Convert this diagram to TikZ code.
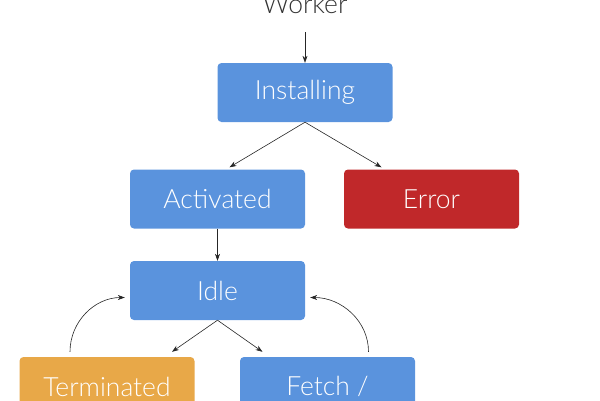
\documentclass[tikz,border=0pt]{standalone}
\usepackage{fontspec}
\setmainfont{Lato Light}
\usetikzlibrary{arrows.meta}
\definecolor{stateblue}{HTML}{5A93DD}
\definecolor{statered}{HTML}{C0282A}
\definecolor{stateorange}{HTML}{E8A848}

\begin{document}
\begin{tikzpicture}[x=1pt,y=-1pt,
	state/.style={rounded corners=4pt,minimum width=175pt,minimum height=59pt,inner sep=0pt,text=white,font=\fontsize{26.5}{30}\selectfont},
	flow/.style={-{Stealth[length=7pt,width=5pt]},line width=0.6pt,draw=black!85}]
	\useasboundingbox (0,0) rectangle (600,400);
	\node[font=\fontsize{26.5}{30}\selectfont,text=black!80] (worker) at (305,4) {Worker};
	\node[state,fill=stateblue] (installing) at (305,92.5) {Installing};
	\node[state,fill=stateblue] (activated) at (217.5,199) {Activated};
	\node[state,fill=statered] (error) at (431.5,199) {Error};
	\node[state,fill=stateblue] (idle) at (217.5,290.5) {Idle};
	\node[state,fill=stateorange] (terminated) at (107,386.5) {Terminated};
	\node[state,fill=stateblue] (fetch) at (327.5,386.5) {Fetch /};
	\draw[flow] (305,32) -- (installing);
	\draw[flow] (installing.south) -- ([xshift=12pt,yshift=2pt]activated.north);
	\draw[flow] (installing.south) -- ([xshift=-50pt,yshift=2pt]error.north);
	\draw[flow] (activated) -- (idle);
	\draw[flow] (idle.south) -- ([xshift=65pt,yshift=5pt]terminated.north);
	\draw[flow] (idle.south) -- ([xshift=-65pt,yshift=5pt]fetch.north);
	\draw[flow] ([xshift=-37pt,yshift=5pt]terminated.north) to[out=90,in=180] ([xshift=-5pt,yshift=-7pt]idle.west);
	\draw[flow] ([xshift=41pt,yshift=5pt]fetch.north) to[out=90,in=0] ([xshift=5pt,yshift=-7pt]idle.east);
\end{tikzpicture}
\end{document}
